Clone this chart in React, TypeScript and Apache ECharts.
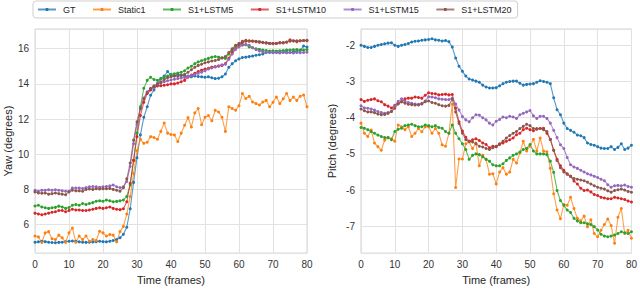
import React, { useEffect, useRef } from "react";
import * as echarts from "echarts";

const FONT = "'Liberation Sans', Arial, Helvetica, sans-serif";

const seriesNames = ["GT", "Static1", "S1+LSTM5", "S1+LSTM10", "S1+LSTM15", "S1+LSTM20"];
const seriesColors = ["#1f77b4", "#ff7f0e", "#2ca02c", "#d62728", "#9467bd", "#8c564b"];

const xTicks = [0, 10, 20, 30, 40, 50, 60, 70, 80];

// Yaw (left panel), frames 0..80
const yawGT = [
  5.00, 5.02, 5.05, 5.03, 5.00, 4.98, 4.97, 4.99, 5.00, 5.02,
  5.05, 5.07, 5.05, 5.02, 5.00, 4.99, 5.00, 5.01, 5.03, 5.05,
  5.03, 5.02, 5.05, 5.10, 5.15, 5.25, 5.45, 5.85, 6.90, 8.40,
  9.80, 11.10, 12.10, 12.70, 13.35, 13.65, 14.00, 14.30, 14.45, 14.70,
  14.50, 14.45, 14.55, 14.50, 14.45, 14.45, 14.40, 14.45, 14.42, 14.40,
  14.38, 14.40, 14.35, 14.30, 14.32, 14.40, 14.56, 14.94, 15.15, 15.31,
  15.42, 15.50, 15.52, 15.55, 15.58, 15.63, 15.66, 15.70, 15.78, 15.80,
  15.78, 15.80, 15.78, 15.82, 15.80, 15.78, 15.82, 15.85, 15.90, 16.15, 16.10,
];
const yawStatic1 = [
  5.35, 5.30, 4.98, 5.53, 5.60, 5.20, 5.15, 5.40, 5.25, 5.00,
  5.53, 5.81, 5.00, 5.35, 5.15, 5.35, 5.05, 5.15, 5.10, 5.62,
  5.53, 5.35, 5.44, 5.40, 5.02, 5.60, 5.90, 6.60, 7.60, 8.90,
  10.20, 10.85, 10.62, 10.68, 11.00, 10.95, 10.85, 11.30, 11.77, 11.20,
  11.12, 11.10, 10.72, 11.20, 11.65, 12.08, 11.55, 12.35, 12.60, 11.68,
  12.10, 12.20, 11.90, 12.50, 12.40, 12.10, 11.30, 12.70, 12.60, 12.50,
  12.76, 13.45, 13.17, 13.30, 12.97, 12.88, 12.80, 12.97, 13.06, 12.70,
  12.95, 13.25, 12.88, 13.15, 13.45, 13.06, 13.25, 13.06, 13.30, 13.37, 12.70,
];
const yawLSTM5 = [
  7.06, 7.10, 7.00, 6.96, 6.92, 6.96, 6.98, 7.05, 7.00, 6.92,
  6.97, 7.10, 7.14, 7.10, 7.20, 7.14, 7.20, 7.25, 7.33, 7.35,
  7.33, 7.40, 7.35, 7.30, 7.32, 7.35, 7.40, 7.60, 8.25, 9.65,
  11.20, 12.70, 13.75, 14.20, 14.38, 14.25, 14.20, 14.28, 14.38, 14.45,
  14.55, 14.58, 14.62, 14.66, 14.75, 14.90, 15.00, 15.15, 15.25, 15.32,
  15.38, 15.45, 15.52, 15.56, 15.52, 15.48, 15.45, 15.70, 15.95, 16.15,
  16.20, 16.24, 16.22, 16.10, 16.05, 16.00, 15.96, 15.92, 15.90, 15.87,
  15.88, 15.86, 15.88, 15.90, 15.92, 15.92, 15.94, 15.95, 15.93, 15.92, 15.95,
];
const yawLSTM10 = [
  6.65, 6.60, 6.56, 6.60, 6.65, 6.70, 6.73, 6.80, 6.80, 6.73,
  6.80, 6.87, 6.83, 6.83, 6.80, 6.80, 6.83, 6.87, 6.92, 6.96,
  6.92, 6.96, 7.00, 6.92, 6.87, 6.85, 6.90, 7.30, 8.35, 9.65,
  11.00, 12.20, 12.95, 13.45, 13.65, 13.82, 13.88, 13.90, 13.92, 13.95,
  14.00, 14.00, 14.05, 14.12, 14.20, 14.38, 14.50, 14.60, 14.70, 14.78,
  14.84, 14.89, 14.95, 14.98, 15.00, 15.05, 15.15, 15.45, 15.80, 16.00,
  16.22, 16.35, 16.42, 16.42, 16.44, 16.40, 16.37, 16.35, 16.33, 16.30,
  16.28, 16.30, 16.35, 16.33, 16.37, 16.50, 16.45, 16.40, 16.45, 16.47, 16.45,
];
const yawLSTM15 = [
  7.95, 7.90, 7.95, 7.95, 7.98, 7.95, 7.98, 7.95, 7.92, 7.90,
  7.90, 8.08, 8.08, 8.08, 8.05, 8.10, 8.15, 8.17, 8.15, 8.12,
  8.15, 8.17, 8.20, 8.25, 8.15, 8.10, 8.15, 8.45, 9.30, 10.60,
  11.70, 12.60, 13.20, 13.55, 13.75, 13.88, 13.98, 14.05, 14.12, 14.18,
  14.22, 14.26, 14.30, 14.33, 14.36, 14.42, 14.47, 14.53, 14.60, 14.66,
  14.75, 14.84, 14.90, 14.96, 15.03, 15.08, 15.12, 15.40, 15.70, 15.96,
  16.10, 16.20, 16.24, 16.20, 16.05, 15.95, 15.87, 15.82, 15.78, 15.78,
  15.77, 15.78, 15.76, 15.78, 15.77, 15.78, 15.76, 15.78, 15.77, 15.78, 15.80,
];
const yawLSTM20 = [
  7.86, 7.80, 7.78, 7.80, 7.73, 7.76, 7.80, 7.76, 7.73, 7.70,
  7.86, 7.95, 7.92, 7.92, 7.90, 8.00, 8.02, 8.00, 8.04, 8.02,
  8.04, 8.04, 8.06, 8.00, 7.95, 7.90, 8.10, 8.60, 9.50, 10.80,
  11.85, 12.60, 13.15, 13.50, 13.72, 13.88, 14.00, 14.10, 14.25, 14.35,
  14.40, 14.45, 14.45, 14.47, 14.55, 14.66, 14.80, 14.94, 15.05, 15.12,
  15.20, 15.25, 15.30, 15.33, 15.38, 15.47, 15.55, 15.78, 16.00, 16.20,
  16.30, 16.42, 16.48, 16.45, 16.42, 16.42, 16.40, 16.36, 16.33, 16.30,
  16.30, 16.30, 16.32, 16.35, 16.38, 16.42, 16.44, 16.45, 16.45, 16.47, 16.48,
];

// Pitch (right panel), frames 0..80
const pitchGT = [
  -2.00, -2.03, -2.06, -2.06, -2.03, -2.00, -1.98, -1.96, -1.94, -1.93,
  -2.00, -2.03, -2.00, -1.98, -1.95, -1.91, -1.89, -1.88, -1.86, -1.85,
  -1.84, -1.82, -1.85, -1.86, -1.88, -1.87, -1.90, -2.05, -2.35, -2.58,
  -2.72, -2.85, -2.93, -2.96, -2.99, -3.02, -3.10, -3.15, -3.18, -3.18,
  -3.17, -3.12, -3.06, -3.02, -3.00, -2.99, -2.99, -3.05, -3.10, -3.08,
  -3.07, -3.06, -3.02, -2.98, -3.00, -3.02, -3.06, -3.45, -3.78, -3.92,
  -4.15, -4.30, -4.35, -4.40, -4.48, -4.50, -4.55, -4.70, -4.74, -4.76,
  -4.80, -4.84, -4.85, -4.85, -4.80, -4.88, -4.82, -4.72, -4.88, -4.84, -4.76,
];
const pitchStatic1 = [
  -4.15, -4.43, -4.52, -4.34, -4.70, -4.80, -4.90, -4.62, -4.55, -4.58,
  -4.65, -4.20, -4.25, -4.33, -4.25, -4.52, -4.43, -4.30, -4.39, -4.25,
  -4.25, -4.43, -4.30, -4.43, -4.75, -4.79, -4.43, -3.63, -5.93, -5.14,
  -5.14, -4.72, -4.67, -4.85, -4.70, -5.33, -5.04, -5.15, -5.56, -5.55,
  -5.83, -5.50, -5.38, -5.56, -5.50, -5.15, -5.25, -4.97, -4.65, -4.92,
  -4.79, -4.60, -4.92, -4.56, -4.92, -4.94, -5.40, -6.10, -6.55, -6.79,
  -6.40, -6.42, -6.20, -6.51, -6.78, -6.85, -6.72, -7.01, -6.82, -7.20,
  -7.29, -7.11, -6.95, -6.80, -6.98, -7.47, -6.75, -6.51, -7.20, -7.11, -7.33,
];
const pitchLSTM5 = [
  -4.27, -4.29, -4.33, -4.38, -4.43, -4.48, -4.52, -4.55, -4.55, -4.61,
  -4.38, -4.32, -4.29, -4.22, -4.20, -4.18, -4.22, -4.25, -4.25, -4.20,
  -4.22, -4.25, -4.22, -4.27, -4.29, -4.38, -4.43, -4.20, -4.43, -4.58,
  -4.72, -4.88, -5.15, -5.04, -5.00, -5.02, -5.08, -5.15, -5.20, -5.30,
  -5.33, -5.33, -5.27, -5.18, -5.11, -5.04, -5.00, -4.95, -4.88, -4.85,
  -4.74, -4.92, -5.00, -5.00, -5.00, -5.02, -5.20, -5.51, -6.01, -6.29,
  -6.42, -6.55, -6.62, -6.78, -6.85, -6.90, -6.90, -6.93, -6.95, -7.01,
  -7.10, -7.22, -7.27, -7.29, -7.27, -7.24, -7.20, -7.15, -7.18, -7.20, -7.15,
];
const pitchLSTM10 = [
  -3.50, -3.55, -3.52, -3.50, -3.48, -3.53, -3.56, -3.64, -3.68, -3.73,
  -3.66, -3.60, -3.56, -3.48, -3.46, -3.46, -3.43, -3.44, -3.46, -3.38,
  -3.31, -3.33, -3.34, -3.37, -3.36, -3.35, -3.37, -3.36, -3.74, -4.11,
  -4.37, -4.54, -4.65, -4.61, -4.58, -4.63, -4.70, -4.74, -4.83, -4.79,
  -4.80, -4.74, -4.70, -4.65, -4.61, -4.56, -4.47, -4.43, -4.33, -4.29,
  -4.33, -4.36, -4.32, -4.30, -4.29, -4.43, -4.60, -4.90, -5.15, -5.33,
  -5.45, -5.56, -5.62, -5.75, -5.83, -5.95, -6.01, -6.00, -6.05, -6.12,
  -6.15, -6.20, -6.22, -6.24, -6.24, -6.20, -6.22, -6.24, -6.26, -6.30, -6.33,
];
const pitchLSTM15 = [
  -3.67, -3.73, -3.74, -3.76, -3.79, -3.83, -3.86, -3.88, -3.86, -3.83,
  -3.67, -3.55, -3.48, -3.55, -3.58, -3.60, -3.62, -3.63, -3.60, -3.54,
  -3.42, -3.43, -3.45, -3.48, -3.49, -3.50, -3.50, -3.46, -3.62, -3.79,
  -3.97, -4.06, -4.11, -4.00, -3.92, -3.93, -4.00, -4.06, -4.15, -4.20,
  -4.10, -4.05, -3.98, -4.00, -3.96, -3.98, -4.02, -3.92, -3.88, -3.84,
  -3.80, -3.95, -4.02, -3.96, -3.96, -4.02, -4.15, -4.35, -4.55, -4.75,
  -4.85, -5.10, -5.30, -5.36, -5.40, -5.45, -5.50, -5.55, -5.58, -5.62,
  -5.65, -5.70, -5.74, -5.85, -5.92, -5.88, -5.87, -5.88, -5.86, -5.90, -5.92,
];
const pitchLSTM20 = [
  -3.76, -3.81, -3.84, -3.84, -3.86, -3.90, -3.92, -3.91, -3.88, -3.83,
  -3.74, -3.62, -3.56, -3.60, -3.63, -3.64, -3.65, -3.65, -3.62, -3.56,
  -3.54, -3.58, -3.60, -3.64, -3.67, -3.68, -3.66, -3.49, -3.84, -4.16,
  -4.43, -4.61, -4.65, -4.67, -4.72, -4.79, -4.81, -4.85, -4.88, -4.83,
  -4.79, -4.72, -4.65, -4.56, -4.49, -4.43, -4.38, -4.30, -4.24, -4.18,
  -4.22, -4.30, -4.30, -4.30, -4.33, -4.38, -4.60, -4.90, -5.18, -5.38,
  -5.50, -5.55, -5.62, -5.68, -5.70, -5.72, -5.74, -5.78, -5.83, -5.88,
  -5.92, -5.95, -5.97, -6.02, -6.06, -6.01, -5.99, -5.97, -6.00, -6.04, -6.06,
];

const yawData = [yawGT, yawStatic1, yawLSTM5, yawLSTM10, yawLSTM15, yawLSTM20];
const pitchData = [pitchGT, pitchStatic1, pitchLSTM5, pitchLSTM10, pitchLSTM15, pitchLSTM20];

const GRID_COLOR = "#e2e2e2";
const TEXT_COLOR = "#262626";

function makeSeries(data: number[][], axisIndex: number) {
  return data.map((vals, si) => ({
    name: seriesNames[si],
    type: "line",
    xAxisIndex: axisIndex,
    yAxisIndex: axisIndex,
    data: vals.map((v, i) => [i, v]),
    symbol: "circle",
    symbolSize: 3,
    showSymbol: true,
    color: seriesColors[si],
    itemStyle: { color: seriesColors[si] },
    lineStyle: { width: 1.1, color: seriesColors[si], opacity: 0.75 },
    emphasis: { disabled: true },
  }));
}

function xAxisCfg(gridIndex: number) {
  return {
    gridIndex,
    type: "value",
    min: xTicks[0],
    max: xTicks[xTicks.length - 1],
    interval: 10,
    axisLine: { show: false },
    axisTick: { show: false },
    splitLine: { show: true, lineStyle: { color: GRID_COLOR, width: 1 } },
    axisLabel: { fontSize: 10, color: "#333", margin: 6, fontFamily: FONT },
    name: "Time (frames)",
    nameLocation: "middle",
    nameGap: 19,
    nameTextStyle: { fontSize: 11, color: TEXT_COLOR, fontFamily: FONT },
  };
}

function yAxisCfg(gridIndex: number, min: number, max: number, name: string, nameGap: number) {
  return {
    gridIndex,
    type: "value",
    min,
    max,
    splitNumber: 6,
    axisLine: { show: false },
    axisTick: { show: false },
    splitLine: { show: true, lineStyle: { color: GRID_COLOR, width: 1 } },
    axisLabel: {
      fontSize: 10,
      color: "#333",
      margin: 6,
      fontFamily: FONT,
      showMinLabel: false,
      showMaxLabel: false,
    },
    name,
    nameLocation: "middle",
    nameGap,
    nameRotate: 90,
    nameTextStyle: { fontSize: 11, color: TEXT_COLOR, fontFamily: FONT },
  };
}

export default function App() {
  const ref = useRef<HTMLDivElement>(null);
  useEffect(() => {
    if (!ref.current) return;
    const chart = echarts.init(ref.current, undefined, { renderer: "svg" });
    chart.setOption({
      animation: false,
      backgroundColor: "#ffffff",
      textStyle: { fontFamily: FONT },
      legend: {
        data: seriesNames,
        top: 1,
        left: 33,
        padding: [4, 6, 4, 4],
        itemWidth: 18,
        itemHeight: 4,
        itemGap: 16.5,
        borderColor: "#cfcfcf",
        borderWidth: 1,
        borderRadius: 3,
        backgroundColor: "#ffffff",
        textStyle: { fontSize: 9, color: TEXT_COLOR, fontFamily: FONT, padding: [0, 0, 0, 2] },
      },
      grid: [
        { left: 35, top: 29, width: 272, height: 228, show: true, borderColor: "#d4d4d4", borderWidth: 1, backgroundColor: "#fff", containLabel: false },
        { left: 361, top: 29, width: 271, height: 228, show: true, borderColor: "#d4d4d4", borderWidth: 1, backgroundColor: "#fff", containLabel: false },
      ],
      xAxis: [xAxisCfg(0), xAxisCfg(1)],
      yAxis: [
        yAxisCfg(0, 4.38, 17.12, "Yaw (degrees)", 20),
        yAxisCfg(1, -7.74, -1.55, "Pitch (degrees)", 24),
      ],
      series: [...makeSeries(yawData, 0), ...makeSeries(pitchData, 1)],
    });
    return () => chart.dispose();
  }, []);
  return (
    <div
      ref={ref}
      style={{ position: "fixed", left: 0, top: 0, width: 640, height: 290, background: "#fff" }}
    />
  );
}
